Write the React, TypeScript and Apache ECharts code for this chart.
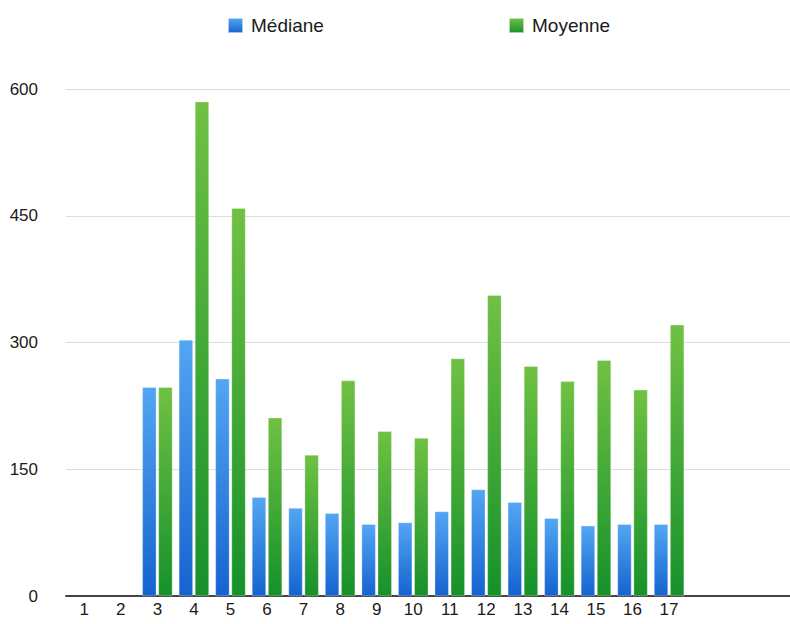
import React, { useEffect, useRef } from "react";
import * as echarts from "echarts";

const categories = ["1", "2", "3", "4", "5", "6", "7", "8", "9", "10", "11", "12", "13", "14", "15", "16", "17", "", "", ""];
const medianValues = [null, null, 247, 303, 257, 117, 104, 98, 85, 87, 100, 126, 111, 92, 83, 85, 85, null, null, null];
const meanValues = [null, null, 247, 585, 459, 211, 167, 255, 195, 187, 281, 356, 272, 254, 279, 244, 321, null, null, null];
const yTicks = [0, 150, 300, 450, 600];

const FONT = "'Liberation Sans', Arial, Helvetica, sans-serif";

export default function App() {
  const ref = useRef<HTMLDivElement>(null);
  useEffect(() => {
    if (!ref.current) return;
    const chart = echarts.init(ref.current, undefined, { renderer: "svg" });
    const blue = new echarts.graphic.LinearGradient(0, 0, 0, 1, [
      { offset: 0, color: "#52a6f2" },
      { offset: 1, color: "#1563d0" },
    ]);
    const green = new echarts.graphic.LinearGradient(0, 0, 0, 1, [
      { offset: 0, color: "#70c143" },
      { offset: 1, color: "#16912b" },
    ]);
    const legendText = { fontSize: 19, color: "#1a1a1a", fontFamily: FONT, padding: [0, 0, 0, 3] };
    chart.setOption({
      animation: false,
      backgroundColor: "#ffffff",
      textStyle: { fontFamily: FONT },
      legend: [
        {
          data: ["Médiane"],
          left: 222,
          top: 11,
          icon: "rect",
          itemWidth: 15,
          itemHeight: 15,
          textStyle: legendText,
        },
        {
          data: ["Moyenne"],
          left: 503,
          top: 11,
          icon: "rect",
          itemWidth: 15,
          itemHeight: 15,
          textStyle: legendText,
        },
      ],
      grid: { left: 66, right: 0, top: 89, bottom: 28, containLabel: false },
      xAxis: {
        type: "category",
        data: categories,
        axisLine: { show: true, lineStyle: { color: "#444", width: 2 } },
        axisTick: { show: false },
        axisLabel: { fontSize: 17, color: "#1a1a1a", margin: 5, fontFamily: FONT, interval: 0 },
        splitLine: { show: false },
      },
      yAxis: {
        type: "value",
        min: yTicks[0],
        max: yTicks[yTicks.length - 1],
        interval: 150,
        axisLine: { show: false },
        axisTick: { show: false },
        axisLabel: { fontSize: 17, color: "#1a1a1a", margin: 28, fontFamily: FONT },
        splitLine: { lineStyle: { color: "#dddddd", width: 1 } },
      },
      series: [
        {
          name: "Médiane",
          type: "bar",
          data: medianValues,
          barWidth: 14,
          barGap: "15%",
          itemStyle: { color: blue, borderColor: "rgba(255,255,255,0.6)", borderWidth: 0.5 },
        },
        {
          name: "Moyenne",
          type: "bar",
          data: meanValues,
          barWidth: 14,
          barGap: "15%",
          itemStyle: { color: green, borderColor: "rgba(255,255,255,0.6)", borderWidth: 0.5 },
        },
      ],
    });
    return () => chart.dispose();
  }, []);
  return (
    <div style={{ position: "fixed", left: 0, top: 0, width: 790, height: 624, overflow: "hidden", background: "#fff" }}>
      <div ref={ref} style={{ position: "absolute", left: 0, top: 0, width: 797, height: 624 }} />
    </div>
  );
}
